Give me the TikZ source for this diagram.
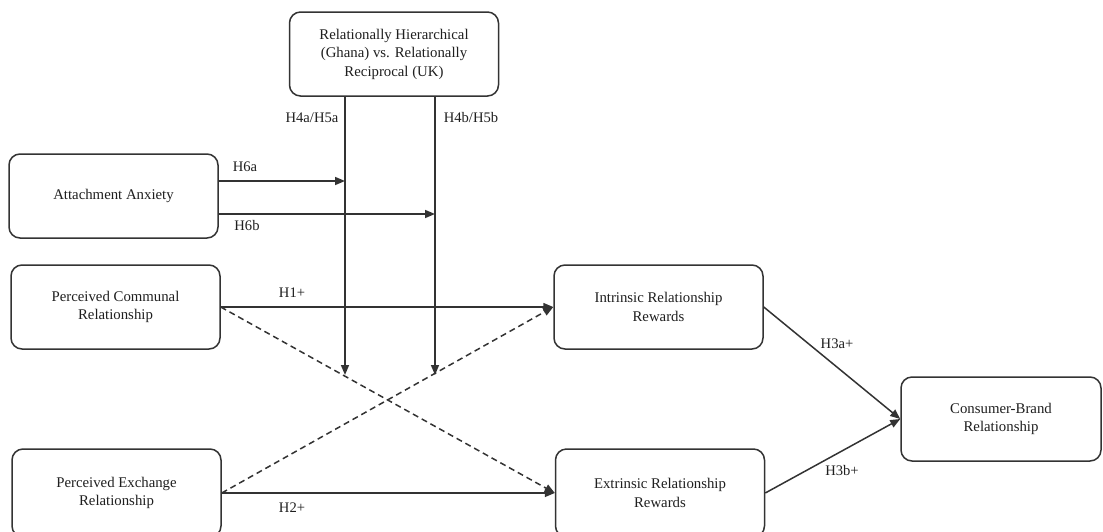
\documentclass[tikz,border=0pt]{standalone}
\usepackage{fontspec}
\setmainfont{Liberation Serif}
\usepackage{tikz}
\usetikzlibrary{arrows.meta,positioning,calc}
\definecolor{boxgrey}{HTML}{333333}
\definecolor{textgrey}{HTML}{1F1F1F}
\tikzset{
  blk/.style={rounded corners=11pt, draw=boxgrey, line width=1.5pt, fill=white,
              align=center, inner sep=0pt, minimum width=209pt, minimum height=84pt,
              text=textgrey, font=\fontsize{14.8}{18.5}\selectfont},
  flow/.style={-{Triangle[length=10pt,width=8pt]}, line width=1.5pt, draw=boxgrey},
  dashflow/.style={flow, dashed, dash pattern=on 6pt off 4pt},
  lbl/.style={font=\fontsize{14.6}{16}\selectfont, text=textgrey, inner sep=1pt},
}

\begin{document}
\begin{tikzpicture}[x=1pt, y=-1pt]
\useasboundingbox (0,0) rectangle (1103,531);

% ---------------- boxes --------------------------------------------------
\node[blk] (mod) at (394,54)
  {Relationally Hierarchical\\(Ghana) vs. Relationally\\Reciprocal (UK)};
\node[blk] (anx) at (113.5,196) {Attachment Anxiety};
\node[blk] (comm) at (115.5,307) {Perceived Communal\\Relationship};
\node[blk, minimum height=88pt] (exch) at (116.5,493) {Perceived Exchange\\Relationship};
\node[blk] (intr) at (658.5,307) {Intrinsic Relationship\\Rewards};
\node[blk, minimum height=88pt] (extr) at (660,493) {Extrinsic Relationship\\Rewards};
\node[blk, minimum width=200pt] (cbr) at (1001,419) {Consumer-Brand\\Relationship};

% ---------------- moderator lines ----------------------------------------
\coordinate (ma) at (345,375);
\coordinate (mb) at (435,375);
\coordinate (h6aend) at (345,181);
\coordinate (h6bend) at (435,214);
\draw[flow] (mod.south -| ma) -- (ma);
\draw[flow] (mod.south -| mb) -- (mb);
\draw[flow] (anx.east |- h6aend) -- (h6aend);
\draw[flow] (anx.east |- h6bend) -- (h6bend);

% ---------------- main paths ---------------------------------------------
\draw[flow] (comm.east) -- (intr.west);
\draw[flow] (exch.east) -- (extr.west);
\draw[dashflow] (comm.east) -- (extr.west);
\draw[dashflow] (exch.east) -- (intr.west);
\draw[flow] (intr.east) -- (cbr.west);
\draw[flow] (extr.east) -- (cbr.west);

% ---------------- labels -------------------------------------------------
\node[lbl] (l45a) at (312,118) {H4a/H5a};
\node[lbl] (l45b) at (471,118) {H4b/H5b};
\node[lbl] (l6a) at (245,167) {H6a};
\node[lbl] (l6b) at (247,225) {H6b};
\node[lbl] (l1) at (292,293) {H1+};
\node[lbl] (l2) at (292,508) {H2+};
\node[lbl] (l3a) at (837,344) {H3a+};
\node[lbl] (l3b) at (842,470) {H3b+};
\end{tikzpicture}
\end{document}
